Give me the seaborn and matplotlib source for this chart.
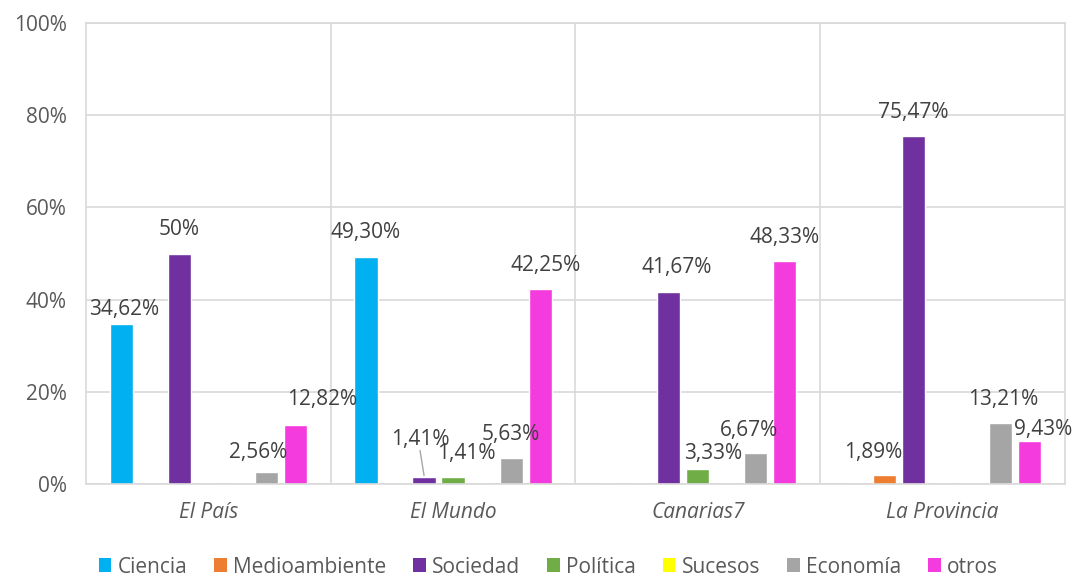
import numpy as np
import pandas as pd
import matplotlib
matplotlib.use("Agg")
import matplotlib.pyplot as plt
import seaborn as sns
from matplotlib.patches import Patch

periodicos = ["El País", "El Mundo", "Canarias7", "La Provincia"]
temas = ["Ciencia", "Medioambiente", "Sociedad", "Política", "Sucesos", "Economía", "otros"]
colores = ["#00B0F0", "#ED7D31", "#7030A0", "#70AD47", "#FFFF00", "#A5A5A5", "#F43BDD"]

ciencia = [34.62, 49.30, 0, 0]
medioambiente = [0, 0, 0, 1.89]
sociedad = [50.00, 1.41, 41.67, 75.47]
politica = [0, 1.41, 3.33, 0]
sucesos = [0, 0, 0, 0]
economia = [2.56, 5.63, 6.67, 13.21]
otros = [12.82, 42.25, 48.33, 9.43]

series = [ciencia, medioambiente, sociedad, politica, sucesos, economia, otros]

rows = []
for tema, vals in zip(temas, series):
    for p, v in zip(periodicos, vals):
        rows.append({"periodico": p, "tema": tema, "valor": v})
df = pd.DataFrame(rows)

# label nudges in pixels (dx, dy above bar top), default (0, 24)
nudges = {
    ("El País", "Ciencia"): (3, 15),
    ("El País", "Economía"): (-8, 20),
    ("El País", "otros"): (27, 25),
    ("El Mundo", "Sociedad"): (-4, 38),
    ("El Mundo", "Política"): (13, 24),
    ("El Mundo", "otros"): (5, 24),
    ("Canarias7", "Sociedad"): (8, 24),
    ("Canarias7", "Política"): (15, 15),
    ("Canarias7", "Economía"): (-7, 23),
    ("La Provincia", "Medioambiente"): (-11, 23),
    ("La Provincia", "Economía"): (3, 24),
    ("La Provincia", "otros"): (13, 11),
}

sns.set_style("white")
plt.rcParams["font.family"] = ["Open Sans", "DejaVu Sans"]
FS = 15

fig = plt.figure(figsize=(10.73, 5.77), dpi=100)
ax = fig.add_axes([0.0801, 0.1612, 0.9124, 0.7989])

sns.barplot(data=df, x="periodico", y="valor", hue="tema", order=periodicos,
            hue_order=temas, palette=colores, saturation=1, width=0.83, gap=0.2,
            legend=False, ax=ax)

ax.set_ylim(0, 100)
ax.set_xlim(-0.5, 3.5)
ax.set_yticks(np.arange(0, 101, 20))
ax.set_yticklabels([f"{t}%" for t in range(0, 101, 20)], fontsize=FS, color="#595959")
ax.set_xticklabels(periodicos, fontsize=FS, color="#595959", style="italic")
ax.tick_params(axis="y", length=0, pad=14)
ax.tick_params(axis="x", length=0, pad=13)
ax.set_xlabel("")
ax.set_ylabel("")
ax.set_axisbelow(True)
ax.yaxis.grid(True, color="#D9D9D9", linewidth=1.2)
for xv in [0.5, 1.5, 2.5]:
    ax.axvline(xv, color="#D9D9D9", linewidth=1.2, zorder=0)
for s in ax.spines.values():
    s.set_color("#D9D9D9")
    s.set_linewidth(1.2)


def fmt(v):
    s = f"{v:.2f}".replace(".", ",")
    if s.endswith(",00"):
        s = s[:-3]
    return s + "%"


for container, tema in zip(ax.containers, temas):
    for bar, p in zip(container, periodicos):
        h = bar.get_height()
        if h <= 0:
            continue
        dx, dy = nudges.get((p, tema), (0, 24))
        xc = bar.get_x() + bar.get_width() / 2
        ax.annotate(fmt(h), (xc, h), xytext=(dx, dy), textcoords="offset pixels",
                    ha="center", va="center", fontsize=FS, color="#404040")
        if (p, tema) == ("El Mundo", "Sociedad"):
            x0, y0 = ax.transData.transform((xc, h))
            p1 = ax.transData.inverted().transform((x0 - 4, y0 + 27))
            p2 = ax.transData.inverted().transform((x0, y0 + 2))
            ax.plot([p1[0], p2[0]], [p1[1], p2[1]], color="#A6A6A6", linewidth=1)

handles = [Patch(facecolor=c, edgecolor="none", label=t) for t, c in zip(temas, colores)]
fig.legend(handles=handles, loc="center", bbox_to_anchor=(0.511, 0.017), ncol=7,
           frameon=False, fontsize=FS, handlelength=0.6, handleheight=0.65,
           handletextpad=0.3, columnspacing=1.3, labelcolor="#595959")

fig.savefig("out.png", dpi=100)
